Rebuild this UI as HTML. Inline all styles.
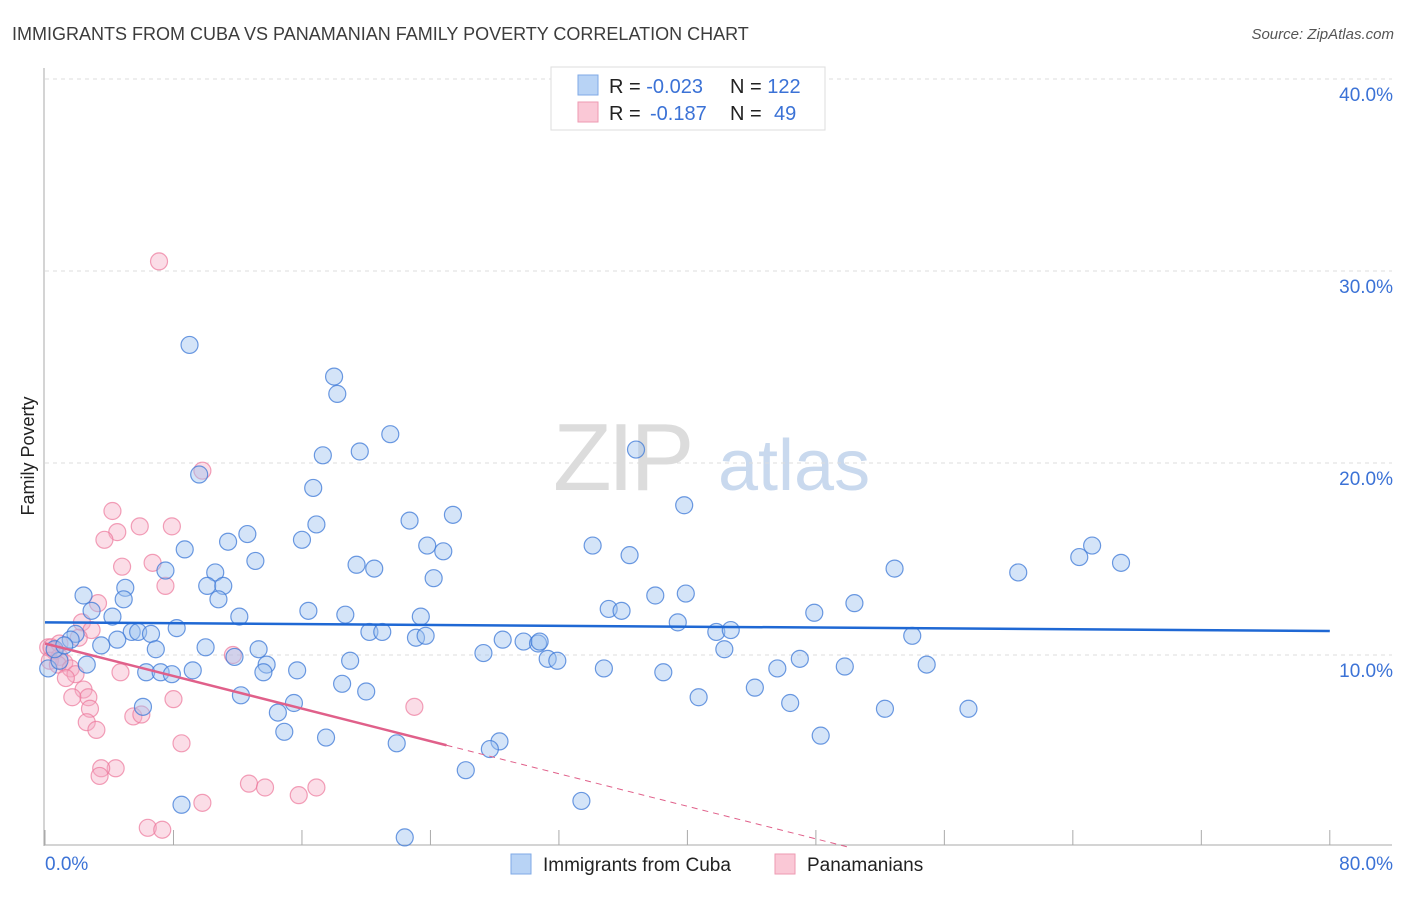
<!DOCTYPE html>
<html><head><meta charset="utf-8"><style>
body{margin:0;background:#fff;font-family:"Liberation Sans",sans-serif;}
svg text{font-family:"Liberation Sans",sans-serif;}
</style></head><body>
<svg id="chart" width="1406" height="892" xmlns="http://www.w3.org/2000/svg">
<text x="12" y="40" font-size="18" fill="#3c3c3c">IMMIGRANTS FROM CUBA VS PANAMANIAN FAMILY POVERTY CORRELATION CHART</text>
<text x="1394" y="39" font-size="15" font-style="italic" fill="#555" text-anchor="end">Source: ZipAtlas.com</text>
<g>
<text x="553" y="490" font-size="96" font-family="Liberation Serif,serif" fill="#dcdcdc" letter-spacing="-4">ZIP</text>
<text x="718" y="490" font-size="72" fill="#c9d9ee">atlas</text>
</g>
<g id="grid"></g>
<g id="axes"></g>
<g id="marks"></g>
<g id="trends"></g>
<text transform="translate(34,456) rotate(-90)" font-size="18" fill="#222" text-anchor="middle">Family Poverty</text>
<g>
<rect x="551" y="67" width="274" height="63" fill="#fff" stroke="#ddd"/>
<rect x="578" y="75" width="20" height="20" fill="#b8d3f5" stroke="#7fa9e6"/>
<rect x="578" y="102" width="20" height="20" fill="#fac8d6" stroke="#ee9ab2"/>
<text x="609" y="93" font-size="20" fill="#222">R = <tspan fill="#3b72d6">-0.023</tspan><tspan x="730">N = </tspan><tspan fill="#3b72d6">122</tspan></text>
<text x="609" y="120" font-size="20" fill="#222">R = <tspan fill="#3b72d6" x="650">-0.187</tspan><tspan x="730">N = </tspan><tspan fill="#3b72d6" x="774">49</tspan></text>
</g>
<g>
<rect x="511" y="854" width="20" height="20" fill="#b8d3f5" stroke="#7fa9e6"/>
<text x="543" y="871" font-size="19" fill="#222">Immigrants from Cuba</text>
<rect x="775" y="854" width="20" height="20" fill="#fac8d6" stroke="#ee9ab2"/>
<text x="807" y="871" font-size="19" fill="#222">Panamanians</text>
</g>
</svg>
<script>
const cubaX=[9.0,18.0,18.2,21.5,17.3,19.6,36.8,9.6,16.7,39.8,25.4,16.9,22.7,12.6,11.4,16.0,8.7,23.8,24.8,34.1,36.4,65.2,64.4,67.0,13.1,19.4,20.5,7.5,10.6,24.2,52.9,60.6,5.0,10.1,11.1,2.4,4.9,10.8,38.0,39.9,50.4,2.9,4.2,16.4,18.7,12.1,23.4,35.1,35.9,47.9,39.4,8.2,5.4,5.8,6.6,1.9,1.6,4.5,3.5,20.2,21.0,23.1,23.7,41.8,42.7,54.0,28.5,29.8,30.7,30.8,10.0,13.3,6.9,11.8,27.3,31.3,31.9,42.3,2.6,6.3,7.2,7.9,9.2,13.8,13.6,15.7,19.0,34.8,38.5,45.6,47.0,49.8,54.9,18.5,20.0,12.2,44.2,40.7,6.1,15.5,14.5,46.4,52.3,57.5,14.9,17.5,21.9,28.3,27.7,48.3,26.2,8.5,33.4,22.4,0.2,0.9,0.6,1.2];
const cubaY=[26.15,24.5,23.6,21.5,20.4,20.6,20.7,19.4,18.7,17.8,17.3,16.8,17.0,16.3,15.9,16.0,15.5,15.7,15.4,15.7,15.2,15.7,15.1,14.8,14.9,14.7,14.5,14.4,14.3,14.0,14.5,14.3,13.5,13.6,13.6,13.1,12.9,12.9,13.1,13.2,12.7,12.3,12.0,12.3,12.1,12.0,12.0,12.4,12.3,12.2,11.7,11.4,11.2,11.2,11.1,11.1,10.8,10.8,10.5,11.2,11.2,10.9,11.0,11.2,11.3,11.0,10.8,10.7,10.6,10.7,10.4,10.3,10.3,9.9,10.1,9.8,9.7,10.3,9.5,9.1,9.1,9.0,9.2,9.5,9.1,9.2,9.7,9.3,9.1,9.3,9.8,9.4,9.5,8.5,8.1,7.9,8.3,7.8,7.3,7.5,7.0,7.5,7.2,7.2,6.0,5.7,5.4,5.5,5.1,5.8,4.0,2.2,2.4,0.5,9.3,9.7,10.3,10.5];
const panX=[7.1,9.8,4.2,5.9,7.9,4.5,3.7,6.7,4.8,7.5,3.3,2.3,2.9,2.1,0.2,0.6,0.9,1.2,0.3,0.8,1.6,1.9,1.3,4.7,11.7,2.4,2.7,8.0,1.7,2.8,23.0,5.5,6.0,2.6,3.2,8.5,4.4,3.5,3.4,12.7,13.7,16.9,15.8,9.8,6.4,7.3,0.9,0.4];
const panY=[30.5,19.6,17.5,16.7,16.7,16.4,16.0,14.8,14.6,13.6,12.7,11.7,11.3,10.9,10.4,10.2,9.9,9.6,9.7,9.5,9.3,9.0,8.8,9.1,10.0,8.2,7.8,7.7,7.8,7.2,7.3,6.8,6.9,6.5,6.1,5.4,4.1,4.1,3.7,3.3,3.1,3.1,2.7,2.3,1.0,0.9,10.6,10.4];
const cubaTrend=[11.7,11.25];
const panTrend=[10.6,-0.212];
const yTicks=[10,20,30,40];
const yTickLabels=["10.0%","20.0%","30.0%","40.0%"];
const xTicks=[0,8,16,24,32,40,48,56,64,72,80];
const NS="http://www.w3.org/2000/svg";
const sx=v=>45+v*16.06, sy=v=>847-v*19.2;
function mk(tag,attrs,parent){const e=document.createElementNS(NS,tag);for(const k in attrs)e.setAttribute(k,attrs[k]);document.getElementById(parent).appendChild(e);return e;}
yTicks.forEach((t,i)=>{
 const g=mk('line',{x1:45,x2:1392,y1:sy(t),y2:sy(t),stroke:'#ddd','stroke-dasharray':'4,4'},'grid');
 
 
 const l=mk('text',{x:1393,y:sy(t)+22,'font-size':19,fill:'#3b72d6','text-anchor':'end'},'grid');
 l.textContent=yTickLabels[i];
 
 
});
const ya=mk('line',{x1:44,x2:44,y1:68,y2:846,stroke:'#aaa'},'axes');


const xa=mk('line',{x1:44,x2:1392,y1:845,y2:845,stroke:'#aaa'},'axes');


xTicks.forEach(t=>{
 const k=mk('line',{x1:sx(t),x2:sx(t),y1:830,y2:845,stroke:'#aaa'},'axes');
 
 
});
const xl0=mk('text',{x:45,y:870,'font-size':19,fill:'#3b72d6'},'axes');xl0.textContent='0.0%';


const xl1=mk('text',{x:1393,y:870,'font-size':19,fill:'#3b72d6','text-anchor':'end'},'axes');xl1.textContent='80.0%';


panX.forEach((x,i)=>{
 const c=mk('circle',{cx:sx(x),cy:sy(panY[i]),r:8.5,fill:'rgba(246,170,195,0.4)',stroke:'rgba(236,120,155,0.7)','stroke-width':1.2},'marks');
 
 
});
cubaX.forEach((x,i)=>{
 const c=mk('circle',{cx:sx(x),cy:sy(cubaY[i]),r:8.5,fill:'rgba(160,196,240,0.45)',stroke:'rgba(60,120,215,0.75)','stroke-width':1.2},'marks');
 
 
});
const bt=mk('line',{x1:sx(0),y1:sy(cubaTrend[0]),x2:sx(80),y2:sy(cubaTrend[1]),stroke:'#1f68d4','stroke-width':2.5},'trends');


const pe=25, pz=50;
const pt=mk('line',{x1:sx(0),y1:sy(panTrend[0]),x2:sx(pe),y2:sy(panTrend[0]+panTrend[1]*pe),stroke:'#e0608a','stroke-width':2.5},'trends');


const pd=mk('line',{x1:sx(pe),y1:sy(panTrend[0]+panTrend[1]*pe),x2:sx(pz),y2:sy(panTrend[0]+panTrend[1]*pz),stroke:'#e0608a','stroke-width':1,'stroke-dasharray':'6,5'},'trends');


</script>
</body></html>
